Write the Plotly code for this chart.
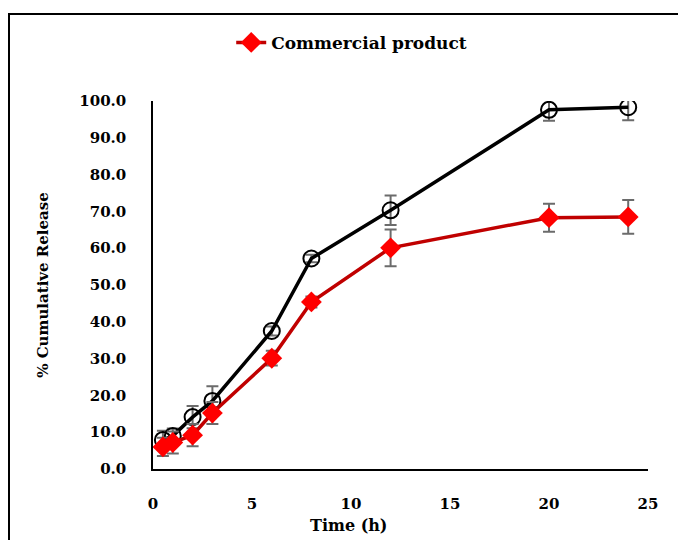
import plotly.graph_objects as go

time_h = [0.5, 1, 2, 3, 6, 8, 12, 20, 24]
formulation = [7.9, 9.0, 14.1, 18.5, 37.5, 57.2, 70.3, 97.6, 98.3]
formulation_err = [2.5, 2.0, 3.0, 4.0, 1.2, 1.0, 4.0, 3.0, 3.5]
commercial = [6.0, 7.2, 9.2, 15.2, 30.1, 45.4, 60.1, 68.3, 68.5]
commercial_err = [2.5, 3.0, 3.0, 3.0, 2.0, 1.5, 5.0, 3.8, 4.6]

x_ticks = [0, 5, 10, 15, 20, 25]
y_ticks = [0, 10, 20, 30, 40, 50, 60, 70, 80, 90, 100]
y_tick_text = [f"{v:.1f}" for v in y_ticks]

FONT = "DejaVu Serif"
err_style = dict(type="data", visible=True, color="#6b6b6b", thickness=2, width=6)

fig = go.Figure()
fig.add_trace(go.Scatter(
    x=time_h, y=formulation, mode="lines+markers", name="Formulation",
    showlegend=False,
    line=dict(color="black", width=3.5),
    marker=dict(symbol="circle-open", size=16, color="black", line=dict(width=2)),
    error_y=dict(array=formulation_err, **err_style),
))
fig.add_trace(go.Scatter(
    x=time_h, y=commercial, mode="lines+markers", name="Commercial product",
    line=dict(color="#C00000", width=3.5),
    marker=dict(symbol="diamond", size=16, color="#FF0000"),
    error_y=dict(array=commercial_err, **err_style),
))

fig.update_layout(
    width=678, height=540,
    margin=dict(l=153, r=30, t=101, b=71),
    plot_bgcolor="white", paper_bgcolor="white",
    font=dict(family=FONT, size=15, color="black"),
    showlegend=True,
    legend=dict(x=0.158, y=1.158, xanchor="left", yanchor="middle",
                orientation="h", font=dict(family=FONT, size=17, weight="bold"),
                bgcolor="rgba(0,0,0,0)"),
    xaxis=dict(range=[0, 25], tickvals=x_ticks, showgrid=False, zeroline=False,
               showline=True, linecolor="black", linewidth=2, ticks="",
               ticklabelstandoff=20,
               tickfont=dict(family=FONT, size=15, weight="bold")),
    yaxis=dict(range=[0, 100], tickvals=y_ticks, ticktext=y_tick_text,
               showgrid=False, zeroline=False,
               showline=True, linecolor="black", linewidth=1.5, ticks="",
               ticklabelstandoff=22,
               tickfont=dict(family=FONT, size=15, weight="bold"),
               title=dict(text="<b>% Cumulative Release</b>", standoff=27,
                          font=dict(family=FONT, size=15))),
    annotations=[dict(text="<b>Time (h)</b>", xref="paper", yref="paper",
                      x=(348 - 153) / 495, y=(469 - 525) / 368,
                      xanchor="center", yanchor="middle", showarrow=False,
                      font=dict(family=FONT, size=16))],
    shapes=[dict(type="rect", xref="paper", yref="paper",
                 x0=(9 - 153) / 495, x1=2, y0=-1, y1=(469 - 14) / 368,
                 line=dict(color="black", width=2), fillcolor="rgba(0,0,0,0)",
                 layer="below")],
)

fig.write_html("out.html")
